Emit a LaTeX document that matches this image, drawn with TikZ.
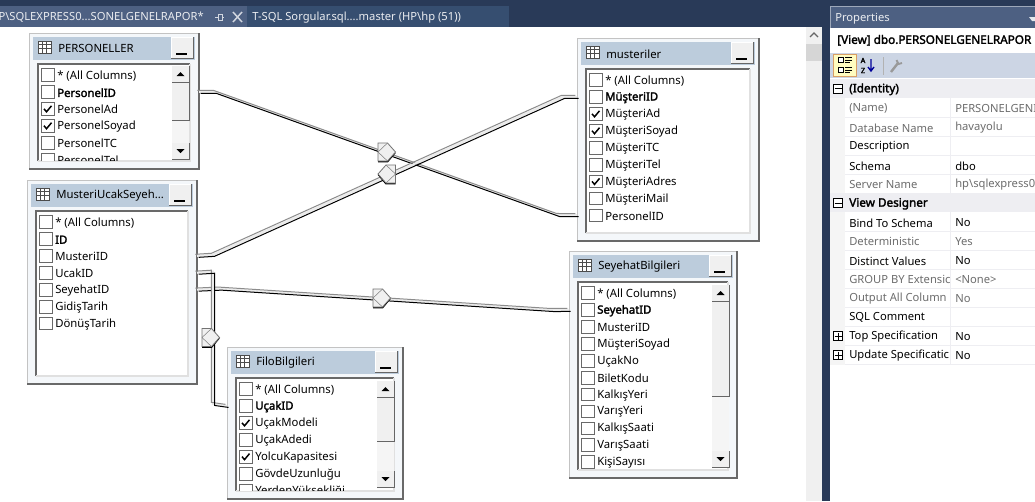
\documentclass[tikz,border=0pt]{standalone}
\usepackage{fontspec}
\setmainfont{Noto Sans}
\newfontfamily\keyface[FakeBold=2.2]{Noto Sans}
\usetikzlibrary{positioning}
\usetikzlibrary{calc}
\definecolor{navy}{HTML}{293A58}
\definecolor{tabact}{HTML}{4D6082}
\definecolor{tabdim}{HTML}{364E70}
\definecolor{titlebar}{HTML}{BCCCDC}
\definecolor{framebg}{HTML}{F4F7FA}
\definecolor{edgedark}{HTML}{696969}
\definecolor{btnbg}{HTML}{F0F0F0}
\definecolor{toolbg}{HTML}{CCD5E4}
\definecolor{catbg}{HTML}{EEEEF2}
\definecolor{roline}{HTML}{6D6D6D}
\tikzset{
  tblframe/.style={draw=edgedark!40, fill=framebg, anchor=north west, inner sep=0pt, outer sep=0pt},
  tbltitle/.style={anchor=west, inner sep=0pt, yshift=-.6pt, font=\fontsize{8.5}{10}\selectfont},
  boxoff/.style={draw=edgedark, fill=white, minimum size=9.5pt, inner sep=0pt, line width=.5pt},
  boxkey/.style={boxoff},
  boxon/.style={boxoff},
  coloff/.style={anchor=west, inner sep=0pt, yshift=-.6pt, font=\fontsize{8.5}{10}\selectfont},
  colon/.style={coloff},
  colkey/.style={coloff, font=\fontsize{8.5}{10}\selectfont\keyface},
  relgray/.style={draw=black!45, line width=.75pt, transform canvas={xshift=-1.15pt,yshift=1.15pt}},
  rellight/.style={draw=black!8, line width=1.6pt},
  relblack/.style={draw=black, line width=.75pt, transform canvas={xshift=1.15pt,yshift=-1.15pt}},
  tabtext/.style={anchor=west, inner sep=0pt, text=white!88!tabact, font=\fontsize{8.4}{10}\selectfont},
  propblack/.style={anchor=west, inner sep=0pt, yshift=-.6pt, font=\fontsize{8.4}{10}\selectfont},
  propgray/.style={propblack, text=roline},
  propcat/.style={propblack, font=\fontsize{8.8}{10}\selectfont\keyface},
  expbox/.style={draw=black, fill=white, line width=.5pt, minimum size=6.5pt, inner sep=0pt}
}
% frame, title bar, minimize button and list well of one table
\newcommand{\tableframe}[6]{
\node[tblframe, minimum width=#4*.75pt, minimum height=#5*.75pt] (#1) at (#2,#3) {};
\draw[edgedark, line width=1pt] (#2,#3+#5) -- (#2+#4,#3+#5) -- (#2+#4,#3);
\fill[titlebar] (#2+4,#3+4) rectangle (#2+#4-4,#3+27);
\fill[btnbg] (#2+#4-28,#3+4) rectangle (#2+#4-6,#3+25);
\draw[black!60] (#2+#4-28,#3+25) -- (#2+#4-6,#3+25) -- (#2+#4-6,#3+4);
\draw[white] (#2+#4-28,#3+25) -- (#2+#4-28,#3+4) -- (#2+#4-6,#3+4);
\draw[black, line width=1pt] (#2+#4-23,#3+21) -- (#2+#4-12,#3+21);
\draw[black!70, fill=white] (#2+9,#3+8) rectangle (#2+22,#3+20);
\draw[black!70] (#2+9,#3+11.5) -- (#2+22,#3+11.5) (#2+9,#3+15.5) -- (#2+22,#3+15.5)
  (#2+13,#3+8) -- (#2+13,#3+20) (#2+17.5,#3+8) -- (#2+17.5,#3+20);
\node[tbltitle] (#1-title) at (#2+29,#3+15) {#6};
\fill[white] (#2+9,#3+31) rectangle (#2+#4-9,#3+#5-8);
\draw[edgedark, line width=.9pt] (#2+9,#3+#5-8) -- (#2+9,#3+31) -- (#2+#4-9,#3+31);
\draw[black!12, line width=.9pt] (#2+9,#3+#5-8) -- (#2+#4-9,#3+#5-8) -- (#2+#4-9,#3+31);
}
% column rows, clipped by the list well
\newcommand{\tablerows}[6]{
\begin{scope}
\clip (#2+9.5,#3+31.5) rectangle (#2+#4-9.5,#3+#5-8.5);
\foreach \lab/\kind [count=\i] in {#6} {
  \node[box\kind] (#1-\i) at (#2+18.5,#3+42+16.9*\i-16.9) {};
  \node[col\kind] (#1-\i-t) at (#2+28,#3+42+16.9*\i-16.9) {\lab};
  \ifx\kind\kindon
    \draw[black, line width=1.1pt] ($(#1-\i)+(-3.5,0)$) -- ($(#1-\i)+(-1,3)$) -- ($(#1-\i)+(4,-3)$);
  \fi
}
\end{scope}
}
\def\kindon{on}
% scrollbar at right of the well
\newcommand{\tablescroll}[4]{
\fill[black!4] (#1,#2) rectangle (#1+17,#3);
\foreach \ya/\yb in {#2/#2+16, #2+17/#4, #3-16/#3} {
  \fill[btnbg] (#1,\ya) rectangle (#1+17,\yb);
  \draw[black!60] (#1,\yb) -- (#1+17,\yb) -- (#1+17,\ya);
}
\fill[black] (#1+4.5,#2+10) -- (#1+12.5,#2+10) -- (#1+8.5,#2+6) -- cycle;
\fill[black] (#1+4.5,#3-10) -- (#1+12.5,#3-10) -- (#1+8.5,#3-6) -- cycle;
}
% join marker: flat side and pointed side, #4 is the direction (1 right, -1 left)
\newcommand{\reljoin}[4]{
\coordinate (#1) at (#2,#3);
\begin{scope}[shift={(#1)}, xscale=#4]
\draw[black, line width=1.3pt] (-8.5,9.5) -- (1,9.5) -- (8.5,0.5);
\draw[black!55, fill=black!6, line width=.6pt] (-8.5,-9) -- (1,-9) -- (9,0) -- (1,9) -- (-8.5,9) -- cycle;
\draw[black!50, line width=.4pt] (-8.5,0) -- (1,-9) (-8.5,0) -- (1,9);
\end{scope}
}
\newcommand{\relline}[1]{
\draw[rellight] #1;
\draw[relgray] #1;
\draw[relblack] #1;
}
\begin{document}
\begin{tikzpicture}[x=.75pt, y=-.75pt]
\useasboundingbox (0,0) rectangle (1035,501);
\clip (0,0) rectangle (1035,501);
\fill[white] (0,0) rectangle (1035,501);
% document tabs
\fill[navy] (0,0) rectangle (1035,27);
\fill[tabact] (0,6) rectangle (247,27);
\fill[tabdim] (247,6) rectangle (509,27);
\node[tabtext, anchor=east] (tabrapor) at (204,17.5) {P\textbackslash SQLEXPRESS0...SONELGENELRAPOR*};
\draw[white!75!tabact, line width=.7pt] (215,17) -- (218,17) (218,14) -- (218,20) -- (222,20) -- (222,14) -- cycle (222,17) -- (224,17);
\draw[white!75!tabact, line width=1.1pt] (233,12) -- (242,22) (242,12) -- (233,22);
\node[tabtext] (tabsorgu) at (252,17.5) {T-SQL Sorgular.sql....master (HP\textbackslash hp (51))};
% designer scrollbar and splitter
\fill[black!6] (806,27) rectangle (822,501);
\fill[black!16] (806,44) rectangle (822,61);
\draw[black!60, line width=.9pt] (810,37) -- (814,33) -- (818,37);
\fill[navy] (822,27) rectangle (830,501);
% tables
\tableframe{personeller}{29}{33}{170}{136}{PERSONELLER}
\tablerows{personeller}{29}{33}{170}{136}{* (All Columns)/off, PersonelID/key, PersonelAd/on, PersonelSoyad/on, PersonelTC/off, PersonelTel/off}
\tablescroll{172}{66}{159}{120}
\tableframe{ucakseyehat}{27}{180}{170}{204}{MusteriUcakSeyeh...}
\tablerows{ucakseyehat}{27}{180}{170}{204}{* (All Columns)/off, ID/key, MusteriID/off, UcakID/off, SeyehatID/off, GidişTarih/off, DönüşTarih/off}
\tableframe{musteriler}{577}{38}{182}{203}{musteriler}
\tablerows{musteriler}{577}{38}{182}{203}{* (All Columns)/off, MüşteriID/key, MüşteriAd/on, MüşteriSoyad/on, MüşteriTC/off, MüşteriTel/off, MüşteriAdres/on, MüşteriMail/off, PersonelID/off}
\tableframe{seyehat}{569}{251}{168}{227}{SeyehatBilgileri}
\tablerows{seyehat}{569}{251}{168}{227}{* (All Columns)/off, SeyehatID/key, MusteriID/off, MüşteriSoyad/off, UçakNo/off, BiletKodu/off, KalkışYeri/off, VarışYeri/off, KalkışSaati/off, VarışSaati/off, KişiSayısı/off}
\tablescroll{712}{285}{467}{396}
\tableframe{filo}{227}{347}{176}{152}{FiloBilgileri}
\tablerows{filo}{227}{347}{176}{152}{* (All Columns)/off, UçakID/key, UçakModeli/on, UçakAdedi/off, YolcuKapasitesi/on, GövdeUzunluğu/off, YerdenYüksekliği/off}
\tablescroll{377}{381}{487}{441}
% joins between tables
\coordinate (a1) at (215,91.9);
\coordinate (a2) at (558,215);
\coordinate (b1) at (213,254.8);
\coordinate (b2) at (563,96.9);
\coordinate (c1) at (220,288.6);
\coordinate (c2) at (552,310);
\coordinate (e1) at (213,271.7);
\coordinate (e2) at (213,403.9);
\relline{(personeller.east |- personeller-2) -- (a1) -- (a2) -- (musteriler.west |- musteriler-9)}
\relline{(ucakseyehat.east |- ucakseyehat-3) -- (b1) -- (b2) -- (musteriler.west |- musteriler-2)}
\relline{(ucakseyehat.east |- ucakseyehat-5) -- (c1) -- (c2) -- (seyehat.west |- seyehat-2)}
\relline{(ucakseyehat.east |- ucakseyehat-4) -- (e1) -- (e2) -- (filo.west |- filo-2)}
\reljoin{j1}{386.5}{152}{1}
\reljoin{j2}{387}{174}{-1}
\reljoin{j3}{381.5}{298}{1}
\reljoin{j4}{210.5}{337.5}{1}
% properties panel
\fill[white] (830,27) rectangle (1035,501);
\fill[tabact] (830,6) rectangle (1035,28);
\draw[white!45!tabact] (830,28) -- (830,6) -- (1035,6);
\fill[white!85!tabact] (1029,17) -- (1035,17) -- (1035,21) -- (1032,21) -- cycle;
\node[tabtext] (proptitle) at (835,18.5) {Properties};
\node[propcat] (propview) at (837,39.5) {[View] dbo.PERSONELGENELRAPOR};
\fill[toolbg] (830,53) rectangle (1035,78);
\draw[black!25!orange!60!white, fill=yellow!25] (833.5,54.5) rectangle (856,76);
\foreach \yy in {60,70} {
  \draw[black, fill=white, line width=.5pt] (838,\yy-2.5) rectangle (843,\yy+2.5);
  \draw[black, line width=.6pt] (845,\yy-2.5) -- (852,\yy-2.5) (845,\yy) -- (852,\yy) (845,\yy+2.5) -- (850,\yy+2.5);
}
\node[inner sep=0pt, font=\fontsize{5.5}{6}\selectfont\keyface] (azlet) at (863,60.5) {A};
\node[inner sep=0pt, font=\fontsize{5.5}{6}\selectfont\keyface] (zzlet) at (863,70.5) {Z};
\draw[blue!60!black, line width=1pt] (871,59) -- (871,71) (868,67) -- (871,71) -- (874,67);
\draw[black!30] (883,57) -- (883,75);
\draw[black!40, line width=1.8pt] (891,72) -- (898,63);
\draw[black!40, line width=1.4pt] (896.5,60) -- (898.5,64) -- (902,63);
% property grid
\fill[black!4] (830,79) rectangle (845,365);
\fill[catbg] (830,79) rectangle (1035,98);
\fill[catbg] (830,193) rectangle (1035,212);
\draw[catbg, line width=.7pt] (950,98) -- (950,193) (950,212) -- (950,365);
\foreach \lab/\val/\kind [count=\i from 0] in {(Name)/PERSONELGENI/propgray, Database Name/havayolu/propgray, Description//propblack, Schema/dbo/propblack, Server Name/hp\textbackslash sqlexpress01/propgray} {
  \draw[catbg, line width=.6pt] (845,98+19+19*\i) -- (1035,98+19+19*\i);
  \node[\kind] (propa\i) at (849,108+19*\i) {\lab};
  \node[\kind] (propb\i) at (955,108+19*\i) {\val};
}
\foreach \lab/\val/\kind [count=\i from 0] in {Bind To Schema/No/propblack, Deterministic/Yes/propgray, Distinct Values/No/propblack, GROUP BY Extensic/<None>/propgray, Output All Column/No/propgray, SQL Comment//propblack, Top Specification/No/propblack, Update Specificatic/No/propblack} {
  \draw[catbg, line width=.6pt] (845,212+19+19*\i) -- (1035,212+19+19*\i);
  \node[\kind] (propc\i) at (849,222+19*\i) {\lab};
  \node[\kind] (propd\i) at (955,222+19*\i) {\val};
}
\node[propcat] (catident) at (849,88.5) {(Identity)};
\node[propcat] (catview) at (849,203) {View Designer};
\node[expbox] (expident) at (838,88.5) {};
\node[expbox] (expview) at (838,203) {};
\node[expbox] (exptop) at (838,336) {};
\node[expbox] (expupd) at (838,355) {};
\draw[black, line width=.5pt] (834.5,88.5) -- (841.5,88.5) (834.5,203) -- (841.5,203)
  (834.5,336) -- (841.5,336) (838,332.5) -- (838,339.5)
  (834.5,355) -- (841.5,355) (838,351.5) -- (838,358.5);
\end{tikzpicture}
\end{document}
